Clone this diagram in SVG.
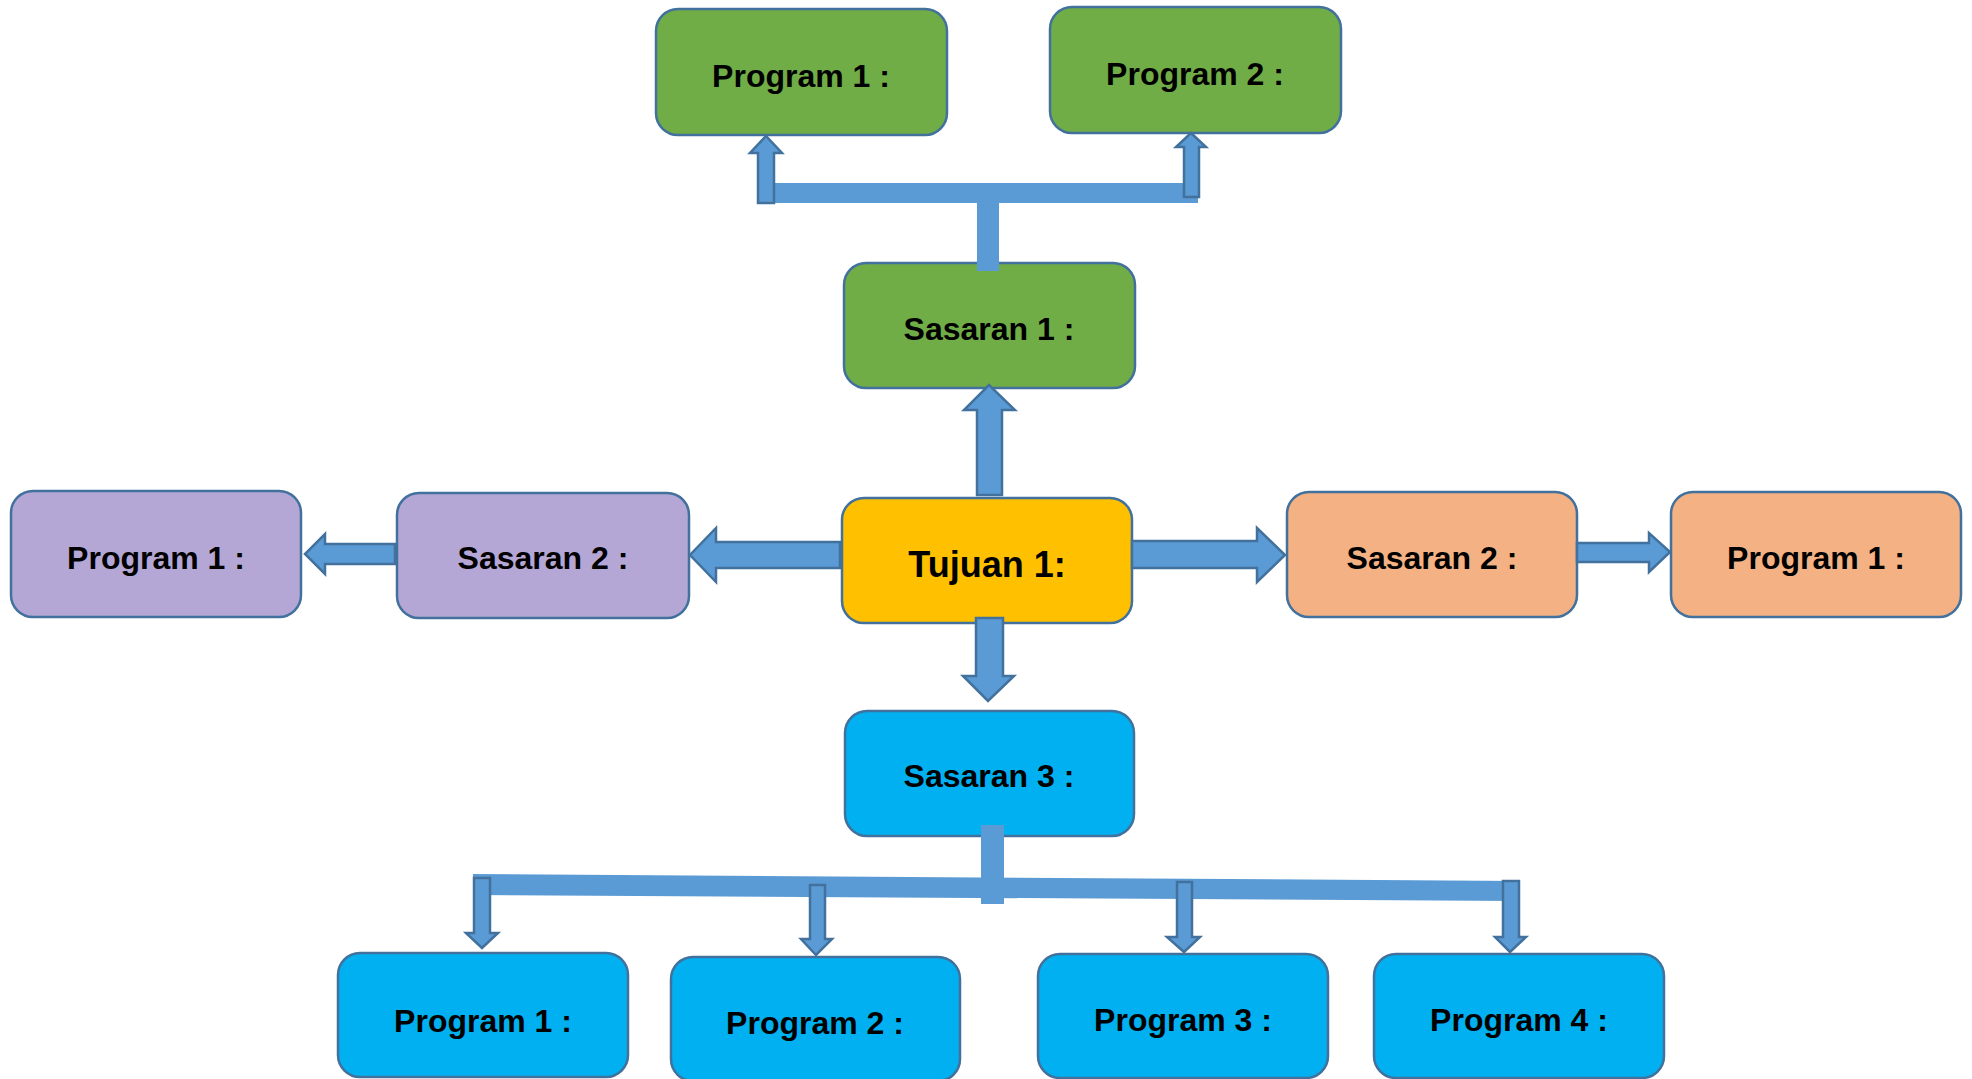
<svg xmlns="http://www.w3.org/2000/svg" width="1972" height="1079" viewBox="0 0 1972 1079">
<style>
.box{stroke:#41719C;stroke-width:2.5}
.green{fill:#70AD47}
.yellow{fill:#FFC000}
.purple{fill:#B4A7D6}
.orange{fill:#F4B183}
.blue{fill:#00B0F0}
.lbl{font-family:"Liberation Sans",Arial,sans-serif;font-weight:bold;font-size:32px;fill:#000;text-anchor:middle}
.big{font-size:36px}
.arr{fill:#5B9BD5;stroke:#41719C;stroke-width:2.5;stroke-linejoin:miter}
.bar{fill:#5B9BD5;stroke:none}
</style>
<rect width="1972" height="1079" fill="#FFFFFF"/>
<g id="nodes">
<g id="g-program1"><rect class="box green" x="656" y="9" width="291" height="126" rx="22"/><text class="lbl" x="801" y="87">Program 1 :</text></g>
<g id="g-program2"><rect class="box green" x="1050" y="7" width="291" height="126" rx="22"/><text class="lbl" x="1195" y="85">Program 2 :</text></g>
<g id="sasaran1"><rect class="box green" x="844" y="263" width="291" height="125" rx="22"/><text class="lbl" x="989" y="340">Sasaran 1 :</text></g>
<g id="tujuan1"><rect class="box yellow" x="842" y="498" width="290" height="125" rx="22"/><text class="lbl big" x="987" y="577">Tujuan 1:</text></g>
<g id="p-program1"><rect class="box purple" x="11" y="491" width="290" height="126" rx="22"/><text class="lbl" x="156" y="569">Program 1 :</text></g>
<g id="p-sasaran2"><rect class="box purple" x="397" y="493" width="292" height="125" rx="22"/><text class="lbl" x="543" y="569">Sasaran 2 :</text></g>
<g id="o-sasaran2"><rect class="box orange" x="1287" y="492" width="290" height="125" rx="22"/><text class="lbl" x="1432" y="569">Sasaran 2 :</text></g>
<g id="o-program1"><rect class="box orange" x="1671" y="492" width="290" height="125" rx="22"/><text class="lbl" x="1816" y="569">Program 1 :</text></g>
<g id="sasaran3"><rect class="box blue" x="845" y="711" width="289" height="125" rx="22"/><text class="lbl" x="989" y="787">Sasaran 3 :</text></g>
<g id="b-program1"><rect class="box blue" x="338" y="953" width="290" height="124" rx="22"/><text class="lbl" x="483" y="1032">Program 1 :</text></g>
<g id="b-program2"><rect class="box blue" x="671" y="957" width="289" height="124" rx="22"/><text class="lbl" x="815" y="1034">Program 2 :</text></g>
<g id="b-program3"><rect class="box blue" x="1038" y="954" width="290" height="124" rx="22"/><text class="lbl" x="1183" y="1031">Program 3 :</text></g>
<g id="b-program4"><rect class="box blue" x="1374" y="954" width="290" height="124" rx="22"/><text class="lbl" x="1519" y="1031">Program 4 :</text></g>
</g>
<g id="connectors">
<rect class="bar" x="758" y="183" width="440" height="20"/>
<rect class="bar" x="977" y="200" width="22" height="71"/>
<polygon class="arr" points="758,203 758,153 750,153 766,136 782,153 774,153 774,203"/>
<polygon class="arr" points="1184,197 1184,147 1176,147 1191,133 1206,147 1199,147 1199,197"/>
<polygon class="arr" points="977,495 977,410 964,410 989,385 1015,410 1002,410 1002,495"/>
<polygon class="arr" points="1132,541 1257,541 1257,528 1285,555 1257,582 1257,568 1132,568"/>
<polygon class="arr" points="1577,543 1649,543 1649,533 1670,552 1649,572 1649,562 1577,562"/>
<polygon class="arr" points="840,542 716,542 716,528 690,555 716,582 716,568 840,568"/>
<polygon class="arr" points="395,544 325,544 325,534 305,554 325,574 325,564 395,564"/>
<polygon class="arr" points="976,618 976,676 963,676 988,701 1014,676 1003,676 1003,618"/>
<polygon class="bar" points="473,874 1519,881 1519,901 473,895"/>
<rect class="bar" x="981" y="825" width="23" height="79"/>
<polygon class="arr" points="474,878 490,878 490,933 498,933 482,948 466,933 474,933"/>
<polygon class="arr" points="810,885 825,885 825,939 832,939 816,955 801,939 810,939"/>
<polygon class="arr" points="1177,882 1192,882 1192,937 1200,937 1184,952 1167,937 1177,937"/>
<polygon class="arr" points="1503,881 1519,881 1519,937 1526,937 1510,952 1495,937 1503,937"/>
</g>
</svg>
